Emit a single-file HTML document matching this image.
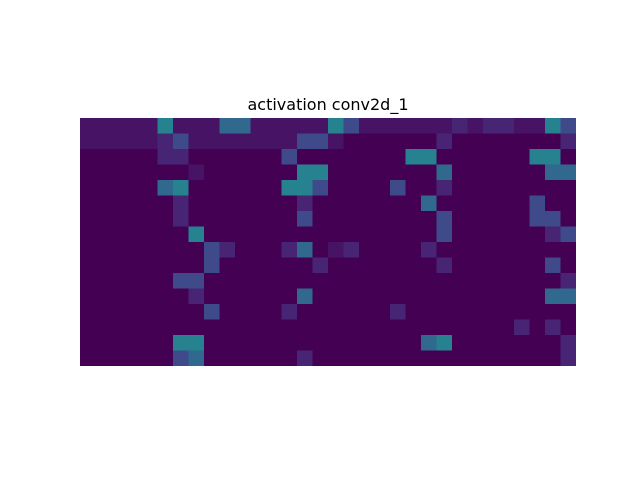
<!DOCTYPE html>
<html><head><meta charset="utf-8"><style>
body{margin:0;background:#fff;width:640px;height:480px;overflow:hidden}
svg{display:block}
</style></head><body>
<svg width="640" height="480">
<rect x="0" y="0" width="640" height="480" fill="#fff"/>
<text x="328" y="110" text-anchor="middle" font-family="DejaVu Sans, sans-serif" font-size="16" fill="#000">activation conv2d_1</text>
<g id="heat"></g>
</svg>
<script>
// activation intensity grid (0-9), 16 rows x 32 cols
const gridRows = [
"11111511144111115311111121221153",
"11111231111111331000000200000002",
"00000220000003000000055000000550",
"00000001000000550000000400000044",
"00000450000005530000300200000000",
"00000020000000200000004000000300",
"00000020000000300000000300000330",
"00000005000000000000000300000023",
"00000000320002401200002000000000",
"00000000300000020000000200000030",
"00000033000000000000000000000002",
"00000002000000400000000000000044",
"00000000300002000000200000000000",
"00000000000000000000000000002020",
"00000055000000000000004500000002",
"00000034000000200000000000000002"
];
const nCols = 32, nRows = 16;
const palette = ["#440154","#471365","#482475","#3e4a89","#31688e","#26828e","#1f9e89","#35b779","#6ece58","#b5de2b"];
const x0 = 80, y0 = 118, w = 496, h = 248;
function xScale(c){ return x0 + c * w / nCols; }
function yScale(r){ return y0 + r * h / nRows; }
const g = document.getElementById('heat');
const ns = "http://www.w3.org/2000/svg";
const bg = document.createElementNS(ns, 'rect');
bg.setAttribute('x', x0); bg.setAttribute('y', y0);
bg.setAttribute('width', w); bg.setAttribute('height', h);
bg.setAttribute('fill', palette[0]);


g.appendChild(bg);
gridRows.forEach((row, r) => {
  for (let c = 0; c < nCols; c++) {
    const v = +row[c];
    if (!v) continue;
    const el = document.createElementNS(ns, 'rect');
    el.setAttribute('x', xScale(c));
    el.setAttribute('y', yScale(r));
    el.setAttribute('width', w / nCols);
    el.setAttribute('height', h / nRows);
    el.setAttribute('fill', palette[v]);
    
    
    g.appendChild(el);
  }
});
</script>
</body></html>
